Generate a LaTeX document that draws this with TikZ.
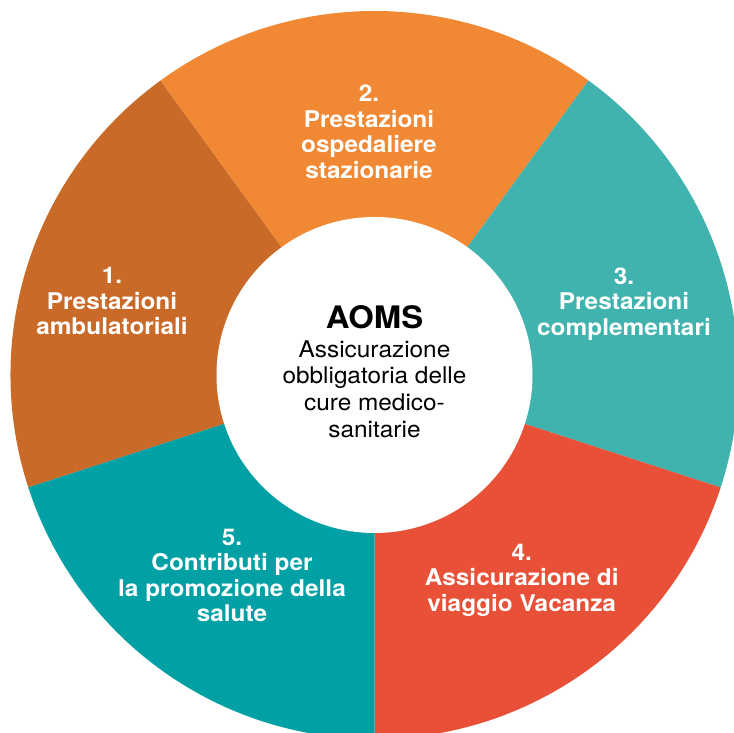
\documentclass[tikz,border=0pt]{standalone}
\usepackage{fontspec}
\setmainfont[FakeStretch=1.06]{TeX Gyre Heros}
\definecolor{cA}{RGB}{201,106,41}
\definecolor{cB}{RGB}{241,136,52}
\definecolor{cC}{RGB}{64,179,174}
\definecolor{cD}{RGB}{232,81,55}
\definecolor{cE}{RGB}{0,160,164}
\tikzset{
  seglabel/.style={text=white, align=center, inner sep=0pt, font=\fontsize{23}{25.5}\selectfont\bfseries},
  desc/.style={text=black, align=center, inner sep=0pt, font=\fontsize{23}{26.7}\selectfont},
}
\begin{document}
\begin{tikzpicture}[x=1pt,y=1pt]
\useasboundingbox (0,0) rectangle (734,733);
\clip (0,0) rectangle (734,733);
\coordinate (C) at (374.5,358);
\def\Rout{364}
\fill[cA] (C) -- ++(126:\Rout) arc[start angle=126, end angle=198, radius=\Rout] -- cycle;
\fill[cB] (C) -- ++(54:\Rout) arc[start angle=54, end angle=126, radius=\Rout] -- cycle;
\fill[cC] (C) -- ++(-18:\Rout) arc[start angle=-18, end angle=54, radius=\Rout] -- cycle;
\fill[cD] (C) -- ++(-90:\Rout) arc[start angle=-90, end angle=-18, radius=\Rout] -- cycle;
\fill[cE] (C) -- ++(198:\Rout) arc[start angle=198, end angle=270, radius=\Rout] -- cycle;
\node[circle, fill=white, minimum size=316pt, inner sep=0pt] (hub) at (C) {};
\node[text=black, inner sep=0pt, anchor=base, font=\fontsize{31}{31}\selectfont\bfseries] (aoms) at (374.5,404) {AOMS};
\node[desc] (aomsdesc) at (374.5,344) {Assicurazione\\obbligatoria delle\\cure medico-\\sanitarie};
\node[seglabel] (s1) at (112,432) {1.\\Prestazioni\\ambulatoriali};
\node[seglabel] (s2) at (369,601) {2.\\Prestazioni\\ospedaliere\\stazionarie};
\node[seglabel] (s3) at (624,429) {3.\\Prestazioni\\complementari};
\node[seglabel] (s4) at (521.7,153) {4.\\Assicurazione di\\viaggio Vacanza};
\node[seglabel] (s5) at (232,157.5) {5.\\Contributi per\\la promozione della\\salute};
\end{tikzpicture}
\end{document}
